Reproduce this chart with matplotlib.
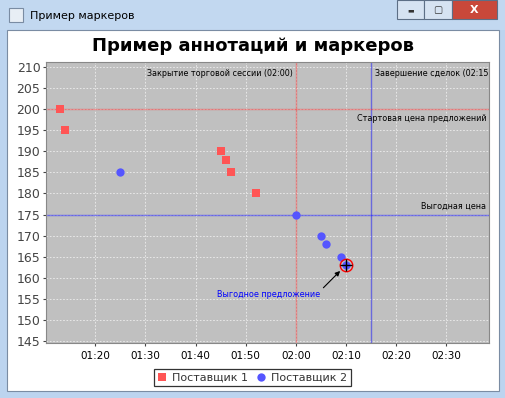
import matplotlib
matplotlib.use("Agg")
import matplotlib.pyplot as plt
from matplotlib.patches import Rectangle
from matplotlib.ticker import FixedLocator, FuncFormatter, MultipleLocator

# время в минутах от 00:00
t1 = [73, 74, 105, 106, 107, 112]
p1 = [200, 195, 190, 188, 185, 180]
t2 = [85, 120, 125, 126, 129, 130]
p2 = [185, 175, 170, 168, 165, 163]

best_t, best_p = 130, 163
close_t, end_t = 120, 135
start_price, good_price = 200, 175
xticks = [80, 90, 100, 110, 120, 130, 140, 150]

W, H = 506, 398
fig = plt.figure(figsize=(W / 100, H / 100), dpi=100)
fig.patch.set_facecolor("#bcd4ef")

def px(x, y, w, h):
    return (x / W, 1 - (y + h) / H, w / W, h / H)

# рамка окна
for x, y, w, h, fc, ec in [
    (0, 0, W, 30, "#c2d8f0", "none"),
    (7, 30, 492, 361, "white", "#7a8ca3"),
    (397, 0, 27, 19, "#d6e3f2", "#5d6f86"),
    (424, 0, 28, 19, "#d6e3f2", "#5d6f86"),
    (452, 0, 45, 19, "#c9483a", "#5d6f86"),
    (9, 8, 14, 14, "#e8eef5", "#7a8ca3"),
]:
    l, b, ww, hh = px(x, y, w, h)
    fig.patches.append(Rectangle((l, b), ww, hh, transform=fig.transFigure,
                                 facecolor=fc, edgecolor=ec, lw=0.8, zorder=-5))
fig.text(30 / W, 1 - 16 / H, "Пример маркеров", fontsize=8, va="center", ha="left")
fig.text(410.5 / W, 1 - 10 / H, "▬", fontsize=5, va="center", ha="center", color="#333333")
fig.text(438 / W, 1 - 10 / H, "▢", fontsize=7, va="center", ha="center", color="#333333")
fig.text(474.5 / W, 1 - 10 / H, "X", fontsize=8, va="center", ha="center",
         color="white", fontweight="bold")

fig.text(253 / W, 1 - 46 / H, "Пример аннотаций и маркеров", fontsize=13,
         fontweight="bold", ha="center", va="center")

ax = fig.add_axes(px(46, 62, 443, 281))
ax.set_facecolor("#c0c0c0")
ax.set_xlim(70.2, 158.5)
ax.set_ylim(144.5, 211.2)

ax.xaxis.set_major_locator(FixedLocator(xticks))
ax.xaxis.set_major_formatter(FuncFormatter(lambda v, pos: "%02d:%02d" % (int(v) // 60, int(v) % 60)))
ax.yaxis.set_major_locator(MultipleLocator(5))
ax.tick_params(axis="x", labelsize=7.5, length=2, colors="#444444", labelcolor="black", pad=4)
ax.tick_params(axis="y", labelsize=9, length=2, colors="#444444", labelcolor="#444444", pad=2)
ax.grid(True, color="#eeeeee", ls=(0, (2, 2)), lw=0.6)
ax.set_axisbelow(True)
for s in ax.spines.values():
    s.set_color("#888888")
    s.set_linewidth(0.8)

# маркеры
ax.axvline(close_t, color="#ff0000", alpha=0.35, lw=1, zorder=1)
ax.axvline(end_t, color="#0000ff", alpha=0.45, lw=1, zorder=1)
ax.axhline(start_price, color="#ff0000", alpha=0.35, lw=1, zorder=1)
ax.axhline(good_price, color="#0000ff", alpha=0.45, lw=1, zorder=1)

fs = 5.8
ax.annotate("Закрытие торговой сессии (02:00)", (close_t, 1), xycoords=("data", "axes fraction"),
            xytext=(-2, -8), textcoords="offset points", ha="right", va="center", fontsize=fs)
ax.annotate("Завершение сделок (02:15)", (end_t, 1), xycoords=("data", "axes fraction"),
            xytext=(3, -8), textcoords="offset points", ha="left", va="center", fontsize=fs,
            annotation_clip=False, clip_on=True)
ax.annotate("Стартовая цена предложений", (1, start_price), xycoords=("axes fraction", "data"),
            xytext=(-2, -7), textcoords="offset points", ha="right", va="center", fontsize=fs)
ax.annotate("Выгодная цена", (1, good_price), xycoords=("axes fraction", "data"),
            xytext=(-2, 6), textcoords="offset points", ha="right", va="center", fontsize=fs)

ax.plot(t1, p1, "s", color="#ff5555", ms=5.8, mew=0, label="Поставщик 1", zorder=3)
ax.plot(t2, p2, "o", color="#5555ff", ms=6, mew=0, label="Поставщик 2", zorder=3)

ax.plot([best_t], [best_p], "o", mfc="none", mec="red", ms=9, mew=1, zorder=4)
ax.plot([best_t], [best_p], "+", color="black", ms=8, mew=1, zorder=4)
ax.annotate("Выгодное предложение", (best_t, best_p), xytext=(-19, -21),
            textcoords="offset points", ha="right", va="center", fontsize=fs, color="blue",
            arrowprops=dict(arrowstyle="-|>", color="black", lw=0.8, shrinkA=1, shrinkB=6,
                            mutation_scale=7, relpos=(1, 0.8)))

leg = fig.legend(loc="center", bbox_to_anchor=(252.5 / W, 1 - 377.5 / H), ncol=2,
                 fontsize=8, frameon=True, fancybox=False, handlelength=0.8,
                 handletextpad=0.5, columnspacing=0.8, borderpad=0.3, borderaxespad=0)
leg.get_frame().set_edgecolor("black")
leg.get_frame().set_linewidth(0.9)
for t in leg.get_texts():
    t.set_color("#333333")

fig.savefig("out.png", dpi=100, facecolor=fig.get_facecolor())
